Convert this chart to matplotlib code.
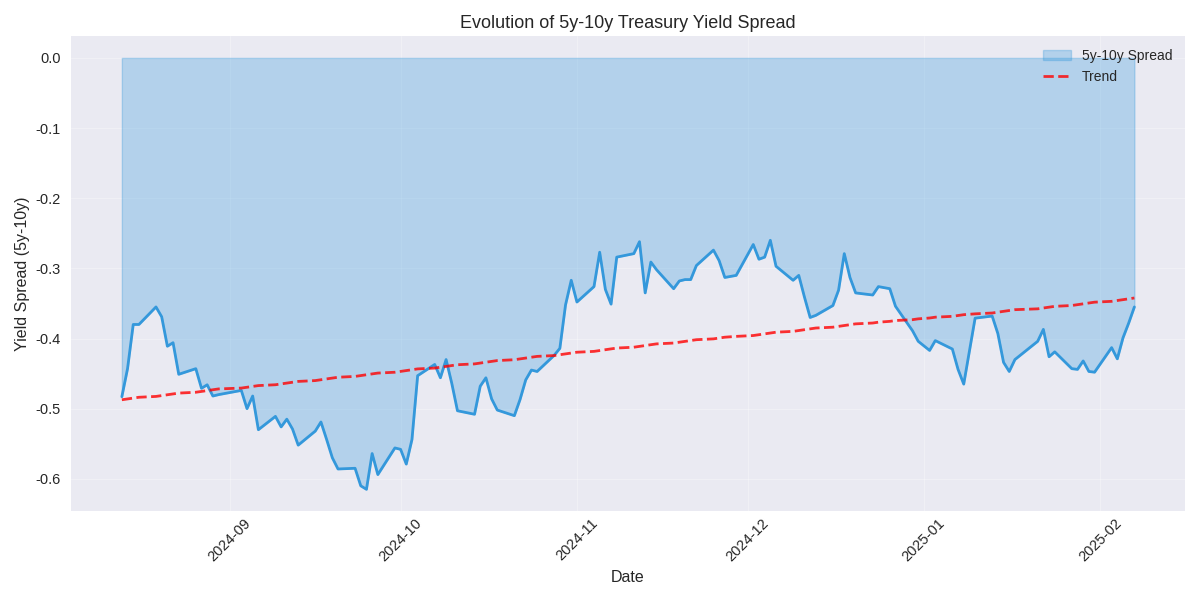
# 5y-10y treasury yield spread with linear trend

import numpy as np
import pandas as pd
import matplotlib
matplotlib.use("Agg")
import matplotlib.pyplot as plt

plt.style.use('seaborn-v0_8-darkgrid')
plt.rcParams['font.family'] = ['Liberation Sans', 'DejaVu Sans']
plt.rcParams['axes.unicode_minus'] = False

start = '2024-08-13'
end = '2025-02-07'
holidays = ['2024-09-02', '2024-11-28', '2024-12-25', '2025-01-01',
            '2025-01-09', '2025-01-20']

spread = [
    -0.483, -0.443, -0.380, -0.380, -0.355, -0.369, -0.411, -0.406, -0.451,
    -0.443, -0.471, -0.466, -0.482, -0.480,
    -0.474, -0.500, -0.482, -0.530,
    -0.511, -0.526, -0.515, -0.529, -0.552,
    -0.532, -0.519, -0.544, -0.570, -0.586,
    -0.585, -0.610, -0.615, -0.564, -0.594,
    -0.556, -0.558, -0.579, -0.544, -0.453,
    -0.437, -0.456, -0.430, -0.464, -0.503,
    -0.508, -0.468, -0.456, -0.486, -0.502,
    -0.510, -0.487, -0.459, -0.445, -0.447,
    -0.424, -0.414, -0.352, -0.317, -0.348,
    -0.326, -0.277, -0.330, -0.351, -0.284,
    -0.279, -0.262, -0.335, -0.291, -0.302,
    -0.329, -0.318, -0.316, -0.316, -0.296,
    -0.274, -0.289, -0.313, -0.310,
    -0.266, -0.287, -0.284, -0.260, -0.297,
    -0.317, -0.310, -0.341, -0.370, -0.367,
    -0.353, -0.331, -0.279, -0.313, -0.335,
    -0.338, -0.326, -0.329, -0.354,
    -0.389, -0.404, -0.417, -0.403,
    -0.415, -0.444, -0.465, -0.371,
    -0.368, -0.393, -0.434, -0.447, -0.430,
    -0.404, -0.387, -0.426, -0.419,
    -0.443, -0.444, -0.432, -0.447, -0.448,
    -0.413, -0.429, -0.399, -0.378, -0.355,
]

dates = pd.bdate_range(start, end)
dates = dates[~dates.isin(pd.to_datetime(holidays))]
spread = np.array(spread)

# trend fitted against observation index
idx = np.arange(len(spread))
coef = np.polyfit(idx, spread, 1)
trend = np.polyval(coef, idx)

fig, ax = plt.subplots(figsize=(12, 6), dpi=100)
ax.fill_between(dates, spread, 0, alpha=0.3, color='#3498db', label='5y-10y Spread')
ax.plot(dates, spread, color='#3498db', linewidth=2)
ax.plot(dates, trend, 'r--', alpha=0.8, linewidth=2, label='Trend')

ax.set_title('Evolution of 5y-10y Treasury Yield Spread', fontsize=13)
ax.set_xlabel('Date', fontsize=11.5)
ax.set_ylabel('Yield Spread (5y-10y)', fontsize=11.5)
ax.tick_params(labelsize=10.5)
ax.tick_params(axis='x', pad=4)
ax.tick_params(axis='y', pad=7.5)
ax.legend(loc='upper right', fontsize=10)
ax.grid(True, alpha=0.3)
plt.xticks(rotation=45)
plt.tight_layout()
plt.savefig('out.png')
